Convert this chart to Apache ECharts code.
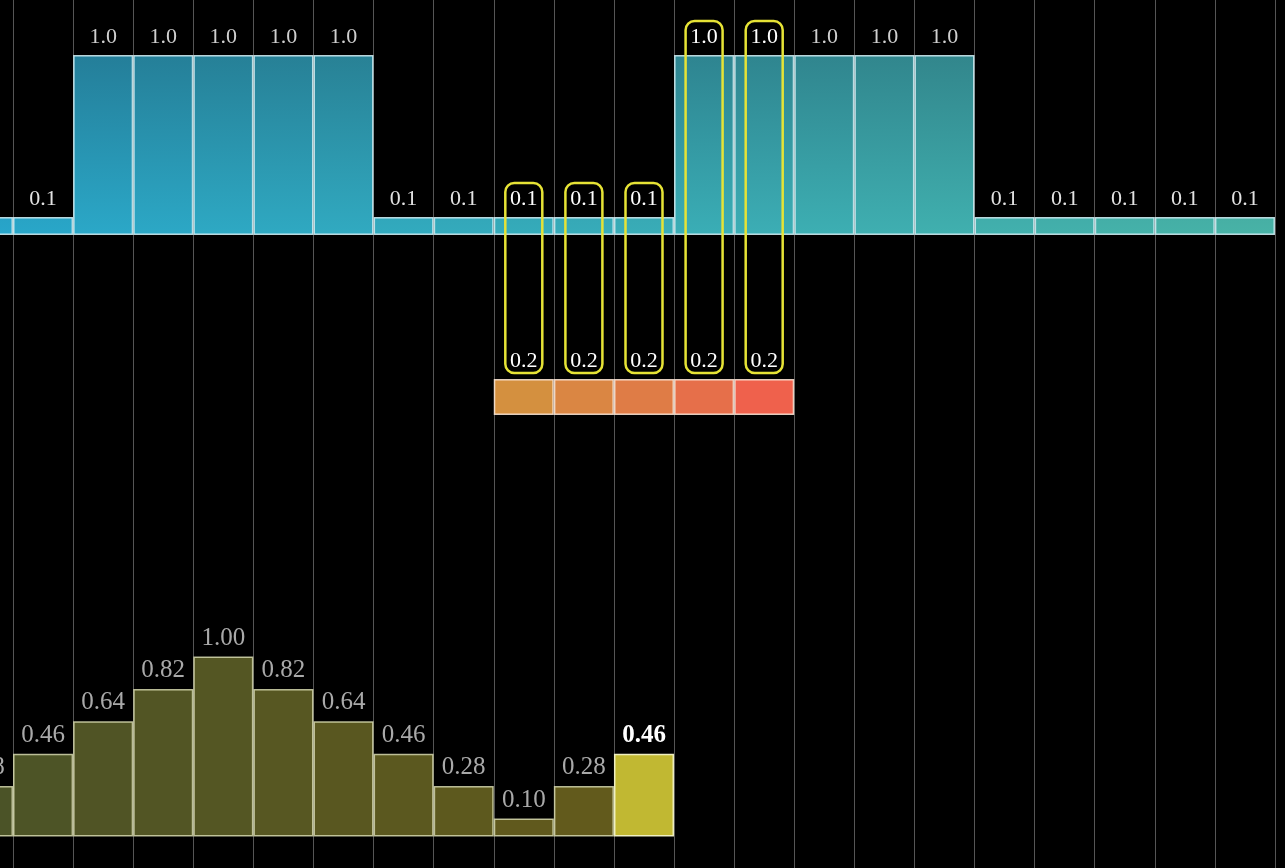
<!DOCTYPE html>
<html>
<head>
<meta charset="utf-8">
<style>
  html, body { margin: 0; padding: 0; background: #000; }
  #chart { width: 1285px; height: 868px; }
</style>
<script src="https://cdn.jsdelivr.net/npm/echarts@6/dist/echarts.min.js"></script>
</head>
<body>
<div id="chart"></div>
<script>
// ---- data ----
const categories = ['-1','0','1','2','3','4','5','6','7','8','9','10','11','12','13','14','15','16','17','18','19','20','21'];
const signalValues = [0.1, 0.1, 1.0, 1.0, 1.0, 1.0, 1.0, 0.1, 0.1, 0.1, 0.1, 0.1, 1.0, 1.0, 1.0, 1.0, 1.0, 0.1, 0.1, 0.1, 0.1, 0.1, null];
const kernelValues = [null, null, null, null, null, null, null, null, null, 0.2, 0.2, 0.2, 0.2, 0.2, null, null, null, null, null, null, null, null, null];
const outputValues = [0.28, 0.46, 0.64, 0.82, 1.00, 0.82, 0.64, 0.46, 0.28, 0.10, 0.28, 0.46, null, null, null, null, null, null, null, null, null, null, null];
const currentOutput = 11;
const kernelColors = ['#d4903f', '#da8643', '#df7c46', '#e66f4a', '#ef614c'];

// ---- layout ----
const W = 1285, H = 868;
const COLW = 1262 / 21;
const LEFT = 13 - COLW;
const RIGHT = W - (LEFT + categories.length * COLW);
const ROW_H = 180;
const SIG_TOP = 55, KER_TOP = 235, OUT_TOP = 656.5;
const FONT = '"Liberation Serif", "DejaVu Serif", serif';

function hex(c) { return [parseInt(c.slice(1,3),16), parseInt(c.slice(3,5),16), parseInt(c.slice(5,7),16)]; }
function mix(a, b, t) {
  const A = hex(a), B = hex(b);
  return 'rgb(' + A.map((v, k) => Math.round(v + (B[k] - v) * t)).join(',') + ')';
}

const chart = echarts.init(document.getElementById('chart'), null, { renderer: 'canvas' });

function gridDef(top) {
  return { left: LEFT, right: RIGHT, top: top, height: ROW_H, containLabel: false, outerBoundsMode: 'none' };
}
function hiddenX(gi) {
  return { type: 'category', data: categories, gridIndex: gi, show: false, boundaryGap: true };
}
function hiddenY(gi) {
  return { type: 'value', min: 0, max: 1, gridIndex: gi, show: false };
}

const signalData = signalValues.map((v, i) => {
  if (v == null) return '-';
  const t = (i + 0.5) / categories.length;
  const highlighted = kernelValues[i] != null;
  return {
    value: v,
    itemStyle: {
      color: new echarts.graphic.LinearGradient(0, SIG_TOP, 0, SIG_TOP + ROW_H, [
        { offset: 0, color: mix('#217d9b', '#388a86', t) },
        { offset: 1, color: mix('#27a6cc', '#4ab4a4', t) }
      ], true)
    },
    label: { color: highlighted ? '#ffffff' : (v >= 1 ? '#cfcfcf' : '#e2e2e2') }
  };
});

let kIdx = 0;
const kernelData = kernelValues.map((v) => {
  if (v == null) return '-';
  const c = kernelColors[kIdx++];
  return { value: v, itemStyle: { color: c } };
});

const outputData = outputValues.map((v, i) => {
  if (v == null) return '-';
  const cur = i === currentOutput;
  return {
    value: v,
    itemStyle: {
      color: cur ? '#c1b832' : mix('#4b5327', '#625a1c', Math.min(1, i / 10)),
      borderColor: cur ? 'rgba(245,245,200,0.95)' : 'rgba(225,228,185,0.8)'
    },
    label: cur ? { color: '#ffffff', fontWeight: 'bold' } : {}
  };
});

const option = {
  backgroundColor: '#000000',
  animation: false,
  grid: [
    { left: LEFT, right: RIGHT, top: 0, bottom: 0, containLabel: false, outerBoundsMode: 'none' },
    gridDef(SIG_TOP),
    gridDef(KER_TOP),
    gridDef(OUT_TOP)
  ],
  xAxis: [
    {
      type: 'category', data: categories, gridIndex: 0, boundaryGap: true,
      axisLine: { show: false }, axisTick: { show: false }, axisLabel: { show: false },
      splitLine: { show: true, interval: 0, lineStyle: { color: '#555555', width: 1 } }
    },
    hiddenX(1), hiddenX(2), hiddenX(3)
  ],
  yAxis: [
    { type: 'value', gridIndex: 0, show: false, min: 0, max: 1, splitLine: { show: false } },
    hiddenY(1), hiddenY(2), hiddenY(3)
  ],
  series: [
    {
      name: 'signal', type: 'bar', xAxisIndex: 1, yAxisIndex: 1,
      barWidth: '100%', barCategoryGap: '0%',
      data: signalData,
      itemStyle: { borderColor: 'rgba(215,245,250,0.85)', borderWidth: 1.5 },
      label: {
        show: true, position: 'top', distance: 7,
        fontFamily: FONT, fontSize: 22, color: '#d8d8d8',
        formatter: p => Number(p.value).toFixed(1)
      },
      z: 3
    },
    {
      name: 'kernel', type: 'bar', xAxisIndex: 2, yAxisIndex: 2,
      barWidth: '100%', barCategoryGap: '0%',
      data: kernelData,
      itemStyle: { borderColor: 'rgba(255,235,220,0.85)', borderWidth: 1.5 },
      label: {
        show: true, position: 'top', distance: 7,
        fontFamily: FONT, fontSize: 22, color: '#ffffff',
        formatter: p => Number(p.value).toFixed(1)
      },
      z: 3
    },
    {
      name: 'output', type: 'bar', xAxisIndex: 3, yAxisIndex: 3,
      barWidth: '100%', barCategoryGap: '0%',
      data: outputData,
      itemStyle: { borderWidth: 1.5 },
      label: {
        show: true, position: 'top', distance: 6,
        fontFamily: FONT, fontSize: 25, color: '#a9a9a9',
        formatter: p => Number(p.value).toFixed(2)
      },
      z: 3
    }
  ]
};

chart.setOption(option);

// highlight brackets linking signal values with kernel values (positions from the chart's scales)
const graphics = [];
kernelValues.forEach((kv, i) => {
  if (kv == null) return;
  const sig = chart.convertToPixel({ xAxisIndex: 1, yAxisIndex: 1 }, [i, signalValues[i]]);
  const ker = chart.convertToPixel({ xAxisIndex: 2, yAxisIndex: 2 }, [i, kv]);
  const w = 37;
  const top = sig[1] - 34;
  const bottom = ker[1] - 6;
  graphics.push({
    type: 'rect', z: 100,
    shape: { x: sig[0] - w / 2, y: top, width: w, height: bottom - top, r: 9 },
    style: { fill: null, stroke: '#e6e336', lineWidth: 2.5 }
  });
});
chart.setOption({ graphic: graphics });
</script>
</body>
</html>
